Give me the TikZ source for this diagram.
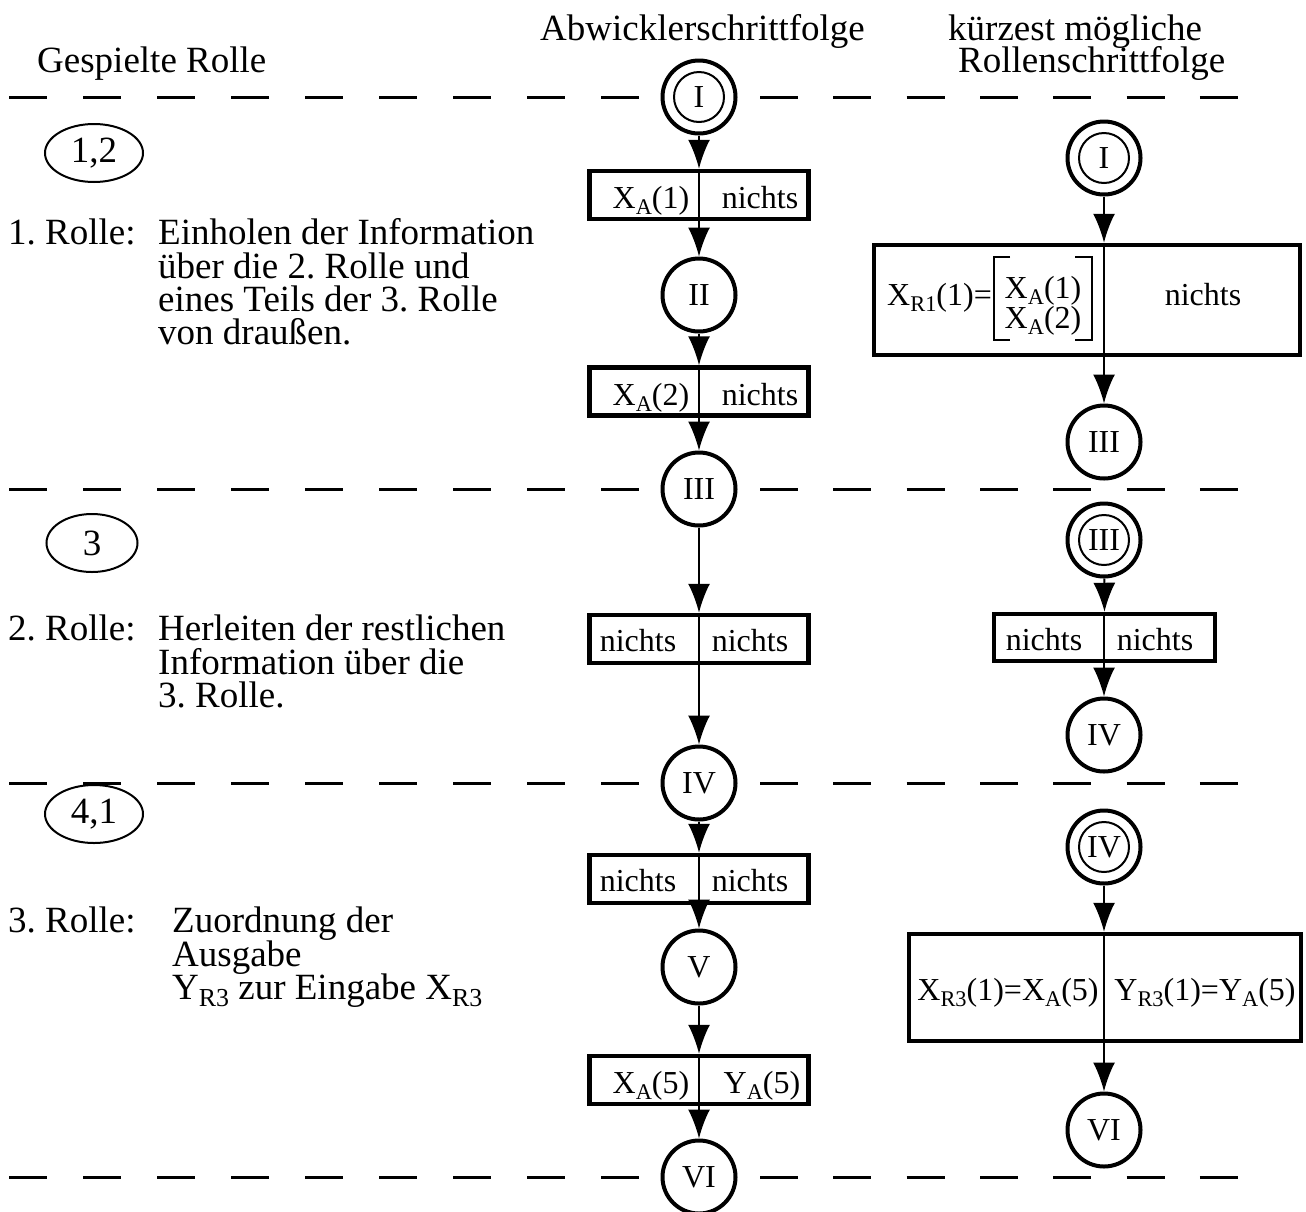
\documentclass[tikz,border=0pt]{standalone}
\usepackage{fontspec}
\setmainfont{Liberation Serif}
\usetikzlibrary{arrows.meta,shapes.geometric}
% lowered, reduced index letters
\newcommand{\sbs}[1]{\raisebox{-0.2em}{\scalebox{0.7}{#1}}}
\frenchspacing

\begin{document}
\begin{tikzpicture}[x=1pt,y=-1pt,
  txt/.style={font=\fontsize{37}{34}\selectfont, inner sep=0pt, anchor=base west},
  boxtxt/.style={font=\fontsize{32}{32}\selectfont, inner sep=0pt, anchor=base},
  state/.style={circle, draw, line width=4pt, minimum size=73pt, inner sep=0pt,
    fill=white, font=\fontsize{32}{32}\selectfont},
  startstate/.style={state, path picture={\draw[line width=2pt]
    (path picture bounding box.center) circle (25pt);}},
  stepbox/.style={rectangle, draw, line width=4.5pt, inner sep=0pt},
  role/.style={ellipse, draw, line width=2pt, inner sep=0pt,
    minimum width=98pt, minimum height=58pt, font=\fontsize{37}{37}\selectfont},
  sepline/.style={line width=3pt},
  arr/.style={line width=2pt, -{Latex[length=29pt,width=22pt]}},
  divider/.style={line width=1.6pt},
  bracket/.style={line width=2pt}
]
\useasboundingbox (0,0) rectangle (1306,1211);

% ---- column headings
\node[txt] (hA) at (540,40) {Abwicklerschrittfolge};
\node[txt] (hG) at (37,72) {Gespielte Rolle};
\node[txt] (hK1) at (948,40) {kürzest mögliche};
\node[txt] (hK2) at (958,72) {Rollenschrittfolge};

% ---- phase separators
\foreach \yy in {97,489,783,1177}{
  \draw[sepline, dash pattern=on 38pt off 36pt] (9,\yy) -- (639,\yy);
  \draw[sepline, dash pattern=on 38pt off 35.33pt] (760,\yy) -- (1240,\yy);
}

% ---- played roles
\node[role] (r12) at (94,153) {1,2};
\node[role, minimum width=91pt] (r3) at (92,543) {3};
\node[role] (r41) at (94,814) {4,1};

\node[txt] (l1a) at (8,244) {1. Rolle:};
\node[txt] (l1b) at (158,244) {Einholen der Information};
\node[txt] (l1c) at (158,278) {über die 2. Rolle und};
\node[txt] (l1d) at (158,311) {eines Teils der 3. Rolle};
\node[txt] (l1e) at (158,344) {von draußen.};

\node[txt] (l2a) at (8,640) {2. Rolle:};
\node[txt] (l2b) at (158,640) {Herleiten der restlichen};
\node[txt] (l2c) at (158,674) {Information über die};
\node[txt] (l2d) at (158,707) {3. Rolle.};

\node[txt] (l3a) at (8,932) {3. Rolle:};
\node[txt] (l3b) at (172,932) {Zuordnung der};
\node[txt] (l3c) at (172,966) {Ausgabe};
\node[txt] (l3d) at (172,999) {Y\sbs{R3} zur Eingabe X\sbs{R3}};

% ---- executor step sequence
\node[startstate] (aI) at (699,97) {I};
\node[stepbox, minimum width=219pt, minimum height=48pt] (a1) at (699,195) {};
\node[boxtxt] (a1l) at (651,208) {X\sbs{A}(1)};
\node[boxtxt] (a1r) at (760,208) {nichts};
\node[state] (aII) at (699,295) {II};
\node[stepbox, minimum width=219pt, minimum height=48pt] (a2) at (699,391.5) {};
\node[boxtxt] (a2l) at (651,405) {X\sbs{A}(2)};
\node[boxtxt] (a2r) at (760,405) {nichts};
\node[state] (aIII) at (699,489) {III};
\node[stepbox, minimum width=219pt, minimum height=48pt] (a3) at (699,639) {};
\node[boxtxt] (a3l) at (638,651) {nichts};
\node[boxtxt] (a3r) at (750,651) {nichts};
\node[state] (aIV) at (699,783) {IV};
\node[stepbox, minimum width=219pt, minimum height=48pt] (a4) at (699,879) {};
\node[boxtxt] (a4l) at (638,891) {nichts};
\node[boxtxt] (a4r) at (750,891) {nichts};
\node[state] (aV) at (699,967) {V};
\node[stepbox, minimum width=219pt, minimum height=48pt] (a5) at (699,1080) {};
\node[boxtxt] (a5l) at (651,1093) {X\sbs{A}(5)};
\node[boxtxt] (a5r) at (762,1093) {Y\sbs{A}(5)};
\node[state] (aVI) at (699,1177) {VI};

\draw[arr] (aI) -- (a1.north);
\draw[divider] (a1.north) -- (a1.south);
\draw[arr] (a1.south) -- (aII);
\draw[arr] (aII) -- (a2.north);
\draw[divider] (a2.north) -- (a2.south);
\draw[arr] (a2.south) -- (aIII);
\draw[arr] (aIII) -- (a3.north);
\draw[divider] (a3.north) -- (a3.south);
\draw[arr] (a3.south) -- (aIV);
\draw[arr] (aIV) -- (a4.north);
\draw[divider] (a4.north) -- (a4.south);
\draw[arr] (a4.south) -- (aV);
\draw[arr] (aV) -- (a5.north);
\draw[divider] (a5.north) -- (a5.south);
\draw[arr] (a5.south) -- (aVI);

% ---- shortest role step sequence
\node[startstate] (bI) at (1104,158) {I};
\node[stepbox, minimum width=426pt, minimum height=110pt] (b1) at (1087,300) {};
\node[boxtxt, anchor=base east] (b1l) at (992,305) {X\sbs{R1}(1)=};
\node[boxtxt] (b1m1) at (1043,298) {X\sbs{A}(1)};
\node[boxtxt] (b1m2) at (1043,328) {X\sbs{A}(2)};
\node[boxtxt] (b1r) at (1203,305) {nichts};
\node[state] (bIII) at (1104,442) {III};

\node[startstate] (bIIIs) at (1104,540) {III};
\node[stepbox, minimum width=221pt, minimum height=47pt] (b2) at (1104.5,637.5) {};
\node[boxtxt] (b2l) at (1044,650) {nichts};
\node[boxtxt] (b2r) at (1155,650) {nichts};
\node[state] (bIV) at (1104,735) {IV};

\node[startstate] (bIVs) at (1104,847) {IV};
\node[stepbox, minimum width=392pt, minimum height=107pt] (b3) at (1105,987.5) {};
\node[boxtxt] (b3l) at (1008,1000) {X\sbs{R3}(1)=X\sbs{A}(5)};
\node[boxtxt] (b3r) at (1205,1000) {Y\sbs{R3}(1)=Y\sbs{A}(5)};
\node[state] (bVI) at (1104,1130) {VI};

% brackets around the stacked inputs
\draw[bracket] (1010,257) -- (994,257) -- (994,340) -- (1010,340);
\draw[bracket] (1075,257) -- (1092,257) -- (1092,340) -- (1075,340);

\draw[arr] (bI) -- (bI |- b1.north);
\draw[divider] (bI |- b1.north) -- (bI |- b1.south);
\draw[arr] (bI |- b1.south) -- (bIII);
\draw[arr] (bIIIs) -- (b2.north);
\draw[divider] (bIIIs |- b2.north) -- (bIIIs |- b2.south);
\draw[arr] (bIIIs |- b2.south) -- (bIV);
\draw[arr] (bIVs) -- (bIVs |- b3.north);
\draw[divider] (bIVs |- b3.north) -- (bIVs |- b3.south);
\draw[arr] (bIVs |- b3.south) -- (bVI);
\end{tikzpicture}
\end{document}
